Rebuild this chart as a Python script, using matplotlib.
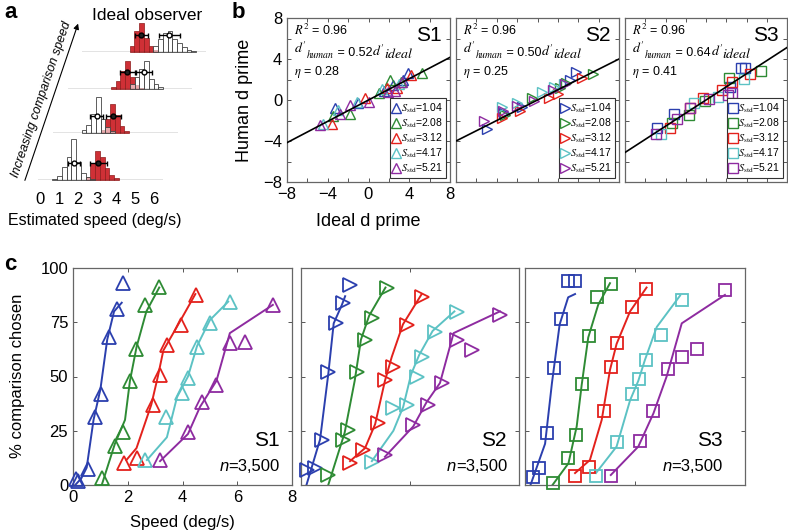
import numpy as np
import matplotlib
matplotlib.use('Agg')
import matplotlib.pyplot as plt
from matplotlib.ticker import MultipleLocator

plt.rcParams['font.family'] = ['Liberation Sans', 'DejaVu Sans']
plt.rcParams['mathtext.fontset'] = 'stix'

# Kich thuoc hinh (pixel)
W, H = 788, 532

COLORS = ['#2b3fae', '#2e8b34', '#e3211c', '#5cc2c4', '#8e2ba0']
S_STD = ['1.04', '2.08', '3.12', '4.17', '5.21']

# ---- Panel a: histogram (ideal observer), 4 hang tu duoi len ----
BIN_W = 0.25
WHITE_START = [0.65, 1.4, 3.15, 3.65]
WHITE_COUNTS = [
    [1, 4, 13, 23, 41, 18, 7, 3, 1],
    [3, 8, 19, 36, 14, 6, 2],
    [5, 12, 20, 28, 10, 5, 2],
    [6, 13, 19, 21, 13, 9, 5, 2, 1],
]
RED_START = [2.4, 2.4, 2.15, 2.4]
RED_COUNTS = [
    [3, 17, 29, 23, 12, 5, 2],
    [3, 14, 29, 18, 7, 2],
    [2, 8, 18, 28, 12, 4, 1],
    [6, 21, 29, 14, 6, 2],
]
WHITE_MEAN = [1.8, 2.19, 3.9, 4.49]
WHITE_ERR = [0.3, 0.35, 0.44, 0.55]
RED_MEAN = [3.07, 3.07, 3.03, 3.03]
RED_ERR = [0.45, 0.39, 0.42, 0.35]
ERR_HEIGHT = 17

# ---- Panel b: human d' vs ideal d' ----
B_SUBJECTS = ['S1', 'S2', 'S3']
B_R2 = ['0.96', '0.96', '0.96']
B_SLOPE = [0.52, 0.50, 0.64]
B_ETA = ['0.28', '0.25', '0.41']
B_MARKERS = ['^', '>', 's']

S1_IDEAL = [[-3.3, -1.0, 1.5, 2.4, 3.4, 3.9],
            [-3.45, -1.8, 1.0, 2.1, 3.2, 5.3],
            [-3.6, -0.35, 1.8, 2.8, 4.2],
            [-4.5, -2.97, -1.16, 1.3, 3.0],
            [-4.76, -2.8, -1.8, 0.08, 1.94, 2.6, 3.25]]
S1_HUMAN = [[-0.8, -0.3, 0.9, 1.5, 2.0, 2.6],
            [-1.6, -1.4, 0.7, 1.95, 1.8, 2.6],
            [-2.3, 0.16, 1.14, 1.14, 2.44],
            [-2.3, -0.98, -0.16, 1.1, 1.6],
            [-2.44, -1.4, -0.5, -0.16, 0.8, 0.9, 1.8]]
S2_IDEAL = [[-4.98, -3.3, -1.5, 3.19, 3.78],
            [-3.2, -0.57, 2.2, 2.8, 5.4],
            [-3.5, -1.7, 1.16, 2.0, 4.33],
            [-3.5, -2.0, 0.41, 1.6, 2.6],
            [-5.25, -3.35, -2.05, -0.3, 1.49, 2.7]]
S2_HUMAN = [[-2.83, -1.3, -0.7, 1.95, 2.7],
            [-1.5, 0.23, 1.2, 1.7, 2.5],
            [-1.8, -1.1, 0.23, 0.6, 2.18],
            [-0.65, -0.3, 0.75, 1.3, 1.6],
            [-2.05, -1.1, -0.55, -0.1, 0.98, 1.6]]
S3_IDEAL = [[-4.85, -3.2, 2.37, 3.5, 3.9],
            [-3.36, -1.7, -0.05, 2.27, 5.42],
            [-3.6, -1.57, -0.28, 1.6, 2.6, 4.35],
            [-4.45, -1.2, 1.17, 3.76],
            [-4.92, -2.87, -1.6, 0.3, 2.17, 2.6]]
S3_HUMAN = [[-2.76, -1.4, 1.3, 3.1, 3.1],
            [-2.28, -1.5, -0.1, 2.18, 2.83],
            [-2.76, -0.75, 0.23, 0.98, 1.8, 2.5],
            [-3.35, -0.3, 0.33, 2.05],
            [-3.35, -1.9, -0.8, 0.1, 0.49, 0.65]]

# ---- Panel c: psychometric functions ----
C1_SPEED = [[0.11, 0.2, 0.56, 0.8, 1.02, 1.33, 1.62, 1.84],
            [1.05, 1.53, 1.84, 2.08, 2.3, 2.63, 3.15],
            [1.86, 2.32, 2.93, 3.18, 3.42, 3.94, 4.49],
            [2.63, 3.39, 3.97, 4.21, 4.54, 5.0, 5.73],
            [3.18, 4.2, 4.7, 5.24, 5.73, 6.28, 7.3]]
C1_PCT = [[2.6, 2.0, 7.4, 31.5, 42, 68, 81, 93],
          [3, 18, 24.6, 48, 62.5, 83, 91.4],
          [10, 12.3, 36.9, 50.7, 64.5, 73.7, 87.6],
          [11.5, 31.5, 42.2, 49.2, 63.7, 74.5, 84.5],
          [11.5, 24.6, 38.4, 46, 65.3, 66, 83]]
C1_FIT_X = [[0.08, 0.3, 0.5, 0.75, 1.0, 1.25, 1.5, 1.78],
            [1.05, 1.53, 1.9, 2.08, 2.32, 2.68, 3.15],
            [1.95, 2.32, 2.86, 3.1, 3.3, 3.8, 4.47],
            [2.7, 3.43, 3.8, 4.2, 4.53, 5.0, 5.67],
            [3.18, 4.2, 4.64, 5.24, 5.73, 7.3]]
C1_FIT_Y = [[0, 3, 8, 30, 44, 67, 80, 84],
            [0, 19, 30, 48, 63.5, 80, 91],
            [11.5, 17, 37, 50, 62, 73, 88],
            [11.5, 22, 40.5, 50, 64, 76, 84.5],
            [11, 23.5, 36, 48, 70, 83]]

C2_SPEED = [[0.21, 0.51, 0.76, 1.0, 1.28, 1.55, 1.8],
            [1.0, 1.55, 1.74, 2.04, 2.35, 2.6, 3.15],
            [1.8, 2.29, 2.84, 3.08, 3.39, 3.88, 4.43],
            [2.6, 3.39, 3.88, 4.25, 4.43, 4.92, 5.71],
            [3.08, 4.12, 4.67, 5.16, 5.71, 6.26, 7.3]]
C2_PCT = [[6.9, 7.7, 20.7, 52, 74.5, 83.7, 92],
          [4.6, 20.7, 25.3, 52, 66.8, 76.8, 90.6],
          [10, 16, 28.4, 48.4, 54.5, 73.7, 86.8],
          [10.7, 35.3, 36.9, 49.9, 59.1, 70.6, 79.9],
          [13.8, 27.6, 36.9, 46.9, 66.8, 62.2, 78.3]]
C2_FIT_X = [[0.2, 0.7, 1.0, 1.2, 1.5, 1.62],
            [1.0, 1.6, 1.97, 2.2, 2.5, 3.1],
            [1.8, 2.35, 2.72, 3.08, 3.33, 3.74, 4.43],
            [2.6, 3.39, 3.75, 4.04, 4.34, 4.83, 5.63],
            [3.08, 4.12, 4.6, 5.1, 5.6, 7.3]]
C2_FIT_Y = [[0, 21, 51, 74.5, 83, 87],
            [0, 24, 48, 67, 78, 91],
            [11, 17, 28, 48, 59, 74, 88],
            [11, 25, 36, 51, 60, 71, 80],
            [13, 27, 38, 47, 70, 80]]

C3_SPEED = [[0.28, 0.52, 0.81, 1.05, 1.3, 1.55, 1.82],
            [1.03, 1.58, 1.84, 2.06, 2.34, 2.61, 3.13],
            [1.82, 2.34, 2.87, 3.12, 3.36, 3.88, 4.4],
            [2.58, 3.36, 3.89, 4.16, 4.4, 4.93, 5.7],
            [3.12, 4.18, 4.67, 5.21, 5.7, 6.24, 7.27]]
C3_PCT = [[3.8, 7.7, 24.1, 54, 76.6, 94, 94],
          [0.8, 12.3, 23, 46.5, 68.7, 86.5, 92.5],
          [4.1, 8.1, 34.2, 54.5, 65.3, 82.2, 90.3],
          [4.1, 19.7, 42, 48.7, 57.6, 69.1, 85.3],
          [4.1, 20.4, 34.1, 53.5, 58.8, 62.5, 89.9]]
C3_FIT_X = [[0.2, 0.73, 0.98, 1.26, 1.57, 1.82],
            [1.0, 1.58, 1.88, 2.06, 2.3, 2.66, 3.09],
            [1.82, 2.36, 2.79, 3.09, 3.33, 3.82, 4.42],
            [2.58, 3.33, 3.82, 4.12, 4.36, 4.79, 5.64],
            [3.12, 4.12, 4.67, 5.15, 5.7, 7.27]]
C3_FIT_Y = [[0, 19, 47, 74, 86.5, 88],
            [0, 10, 27, 46, 68, 83, 93],
            [5.5, 11.5, 30, 53, 65, 80, 91],
            [5.5, 17.7, 39, 48, 57.6, 72.8, 87.3],
            [4.6, 17.7, 33, 50, 74.5, 87.6]]

C_SUBJECTS = ['S1', 'S2', 'S3']
C_N = ['=3,500', '=3,500', '=3,500']


def px_axes(fig, x0, y0, x1, y1):
    # dat axes theo toa do pixel (goc tren trai)
    return fig.add_axes([x0 / W, 1 - y1 / H, (x1 - x0) / W, (y1 - y0) / H])


def dprime_text(ax, x, y, slope):
    # d'_human = 0.52 d'_ideal, ghep tung manh de chi so duoi to hon
    t1 = ax.text(x, y, r"$d'$", transform=ax.transAxes, fontsize=10,
                 va='baseline')
    t2 = ax.annotate(r"$human$", xy=(1, 0), xycoords=(t1, t1), fontsize=7,
                     va='baseline', xytext=(-1, -1.5), textcoords='offset points')
    t3 = ax.annotate(' = %.2f' % slope, xy=(1, 0), xycoords=(t2, t1),
                     fontsize=9, va='baseline')
    t4 = ax.annotate(r"$d'$", xy=(1, 0), xycoords=(t3, t1), fontsize=10,
                     va='baseline')
    ax.annotate(r"$ideal$", xy=(1, 0), xycoords=(t4, t1), fontsize=10,
                va='baseline', xytext=(-1, -1.5), textcoords='offset points')


def plot_panel_a(fig):
    # vi tri (trai, duong day) cua tung hang, dich sang phai khi di len
    rows = [(38, 180), (53, 133), (68, 89), (82, 52)]
    for i, (x0, base) in enumerate(rows):
        ax = px_axes(fig, x0, base - 45, x0 + 124.5, base)
        ax.set_xlim(-0.1, 6.45)
        ax.set_ylim(0, 45)
        ax.patch.set_alpha(0)
        for s in ax.spines.values():
            s.set_visible(False)
        ax.set_yticks([])

        rc = np.array(RED_COUNTS[i])
        rx = RED_START[i] + BIN_W / 2 + BIN_W * np.arange(len(rc))
        ax.bar(rx, rc, width=BIN_W, color='#cf3036', edgecolor='#8c1c1c',
               linewidth=0.5, zorder=2, clip_on=False)
        wc = np.array(WHITE_COUNTS[i])
        wx = WHITE_START[i] + BIN_W / 2 + BIN_W * np.arange(len(wc))
        ax.bar(wx, wc, width=BIN_W, facecolor=(1, 1, 1, 0.6), edgecolor='#444444',
               linewidth=0.6, zorder=3, clip_on=False)
        ax.axhline(0, color='#222222', lw=0.9, zorder=4)

        ax.errorbar(WHITE_MEAN[i], ERR_HEIGHT, xerr=WHITE_ERR[i], fmt='o', ms=3.5,
                    mfc='white', mec='k', ecolor='k', elinewidth=1, capsize=1.8,
                    zorder=5)
        ax.errorbar(RED_MEAN[i], ERR_HEIGHT, xerr=RED_ERR[i], fmt='o', ms=3.5,
                    mfc='#222222', mec='k', ecolor='k', elinewidth=1, capsize=1.8,
                    zorder=5)

        if i == 0:
            ax.set_xticks(range(7))
            ax.tick_params(axis='x', length=0, pad=9, labelsize=12)
        else:
            ax.set_xticks([])


def plot_panel_b(fig):
    ideal = [S1_IDEAL, S2_IDEAL, S3_IDEAL]
    human = [S1_HUMAN, S2_HUMAN, S3_HUMAN]
    lefts = [(287, 450), (456, 619), (625, 787)]
    for k, (x0, x1) in enumerate(lefts):
        ax = px_axes(fig, x0, 18, x1, 182)
        ax.set_xlim(-8, 8)
        ax.set_ylim(-8, 8)
        ax.set_xticks([-8, -4, 0, 4, 8])
        ax.set_yticks([-8, -4, 0, 4, 8])
        ax.xaxis.set_minor_locator(MultipleLocator(2))
        ax.yaxis.set_minor_locator(MultipleLocator(2))
        ax.tick_params(which='both', direction='in', top=True, right=True,
                       length=3, width=0.7, color='#555555', labelsize=12)
        if k > 0:
            ax.tick_params(labelbottom=False, labelleft=False)
        for s in ax.spines.values():
            s.set_color('#666666')
            s.set_linewidth(0.9)

        xs = np.array([-8, 8])
        ax.plot(xs, B_SLOPE[k] * xs, color='k', lw=1.2, zorder=3)

        handles = []
        for c in range(5):
            h, = ax.plot(ideal[k][c], human[k][c], B_MARKERS[k], ls='none',
                         mfc='none', mec=COLORS[c], ms=6.5, mew=1.0, zorder=2,
                         label=r'$S_{\rm std}$=' + S_STD[c])
            handles.append(h)
        leg = ax.legend(handles=handles, loc='lower right', fontsize=7.5,
                        frameon=True, fancybox=False, framealpha=1,
                        edgecolor='#333333', handlelength=0.6, handletextpad=0.2,
                        labelspacing=0.15, borderpad=0.3, borderaxespad=0.35)
        leg.get_frame().set_linewidth(0.8)

        ax.text(0.045, 0.925, r'$R^2$ = ' + B_R2[k], transform=ax.transAxes,
                fontsize=9, va='center')
        dprime_text(ax, 0.045, 0.785, B_SLOPE[k])
        ax.text(0.045, 0.67, r'$\eta$ = ' + B_ETA[k], transform=ax.transAxes,
                fontsize=9, va='center')
        ax.text(0.95, 0.895, B_SUBJECTS[k], transform=ax.transAxes,
                fontsize=15, ha='right', va='center')


def plot_panel_c(fig):
    speeds = [C1_SPEED, C2_SPEED, C3_SPEED]
    pcts = [C1_PCT, C2_PCT, C3_PCT]
    fit_x = [C1_FIT_X, C2_FIT_X, C3_FIT_X]
    fit_y = [C1_FIT_Y, C2_FIT_Y, C3_FIT_Y]
    lefts = [(73, 292), (301, 519), (525, 745)]
    text_x = [0.945, 0.945, 0.9]
    for k, (x0, x1) in enumerate(lefts):
        ax = px_axes(fig, x0, 268, x1, 485)
        ax.set_xlim(0, 8)
        ax.set_ylim(0, 100)
        ax.set_yticks([0, 25, 50, 75, 100])
        if k == 0:
            ax.set_xticks([0, 2, 4, 6, 8])
        else:
            ax.set_xticks([0, 4, 8])
            ax.tick_params(labelbottom=False, labelleft=False)
        ax.tick_params(direction='in', top=True, right=True, length=3,
                       width=0.7, color='#555555', labelsize=12)
        for s in ax.spines.values():
            s.set_color('#666666')
            s.set_linewidth(0.9)

        for c in range(5):
            ax.plot(fit_x[k][c], fit_y[k][c], color=COLORS[c], lw=1.4, zorder=2)
            ax.plot(speeds[k][c], pcts[k][c], B_MARKERS[k], ls='none',
                    mfc='none', mec=COLORS[c], ms=9.5 if k < 2 else 8,
                    mew=1.3, zorder=3, clip_on=False)

        ax.text(text_x[k], 0.203, C_SUBJECTS[k], transform=ax.transAxes,
                fontsize=15, ha='right', va='center')
        t = ax.text(text_x[k], 0.083, C_N[k], transform=ax.transAxes,
                    fontsize=12, ha='right', va='center')
        ax.annotate('n', xy=(0, 0), xycoords=t, ha='right', va='bottom',
                    fontsize=12, style='italic')


def main():
    fig = plt.figure(figsize=(W / 100, H / 100), dpi=100)

    # lop nen de dat chu va mui ten theo pixel
    bg = fig.add_axes([0, 0, 1, 1])
    bg.set_xlim(0, W)
    bg.set_ylim(H, 0)
    bg.axis('off')

    plot_panel_a(fig)
    plot_panel_b(fig)
    plot_panel_c(fig)

    bg.text(4, 12, 'a', fontsize=16, fontweight='bold', va='center')
    bg.text(232, 13, 'b', fontsize=16, fontweight='bold', va='center')
    bg.text(4, 264, 'c', fontsize=16, fontweight='bold', va='center')

    bg.text(147, 15, 'Ideal observer', fontsize=12.5, ha='center', va='center')
    bg.text(95, 220, 'Estimated speed (deg/s)', fontsize=11.5, ha='center', va='center')
    bg.annotate('', xy=(79, 21), xytext=(24, 183),
                arrowprops=dict(arrowstyle='-|>', lw=0.8, color='k', mutation_scale=8))
    bg.text(42, 99, 'Increasing comparison speed', fontsize=9, style='italic',
            rotation=71.3, ha='center', va='center', rotation_mode='anchor')

    bg.text(245, 100, 'Human d prime', fontsize=13, rotation=90, ha='center', va='center')
    bg.text(368, 222, 'Ideal d prime', fontsize=13, ha='center', va='center')
    bg.text(18, 376, '% comparison chosen', fontsize=12, rotation=90, ha='center', va='center')
    bg.text(182, 522, 'Speed (deg/s)', fontsize=12, ha='center', va='center')

    fig.savefig('out.png', dpi=100)
    plt.close(fig)


if __name__ == "__main__":
    main()
